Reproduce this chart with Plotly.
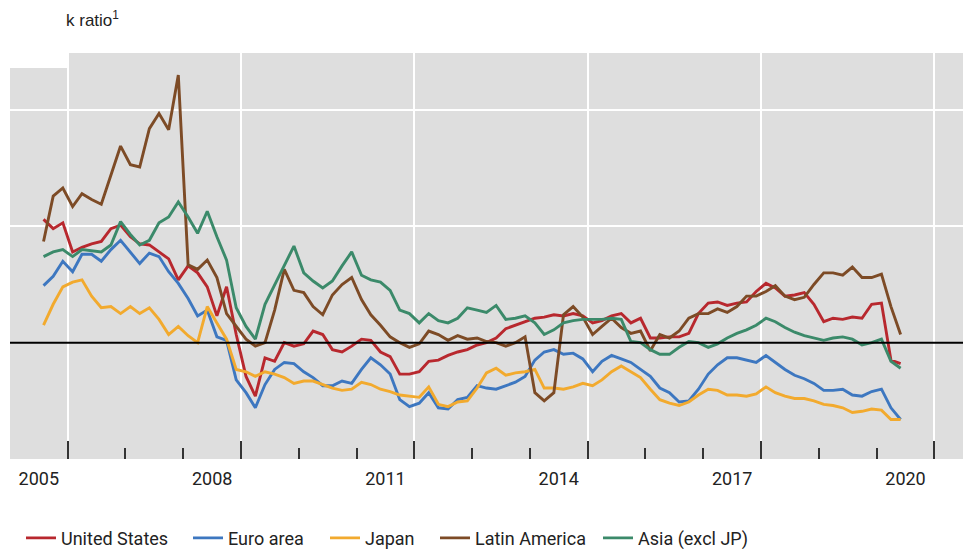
import pandas as pd
import plotly.graph_objects as go

# bi-monthly observations, Aug 2005 .. Jun 2020
dates = pd.date_range("2005-08-01", periods=90, freq="2MS")

united_states = [
    2.06, 1.98, 2.03, 1.78, 1.82, 1.85, 1.87, 1.98, 2.01, 1.91,
    1.85, 1.84, 1.78, 1.72, 1.54, 1.66, 1.60, 1.48, 1.23, 1.48,
    1.07, 0.71, 0.54, 0.87, 0.84, 1.00, 0.97, 0.99, 1.10, 1.07,
    0.94, 0.92, 0.97, 1.03, 1.02, 0.92, 0.88, 0.73, 0.73, 0.75,
    0.84, 0.85, 0.89, 0.92, 0.94, 0.98, 1.00, 1.04, 1.12, 1.15,
    1.18, 1.21, 1.22, 1.24, 1.23, 1.25, 1.23, 1.17, 1.19, 1.23,
    1.25, 1.17, 1.21, 1.04, 1.04, 1.05, 1.05, 1.08, 1.25, 1.34,
    1.35, 1.32, 1.34, 1.35, 1.44, 1.51, 1.47, 1.40, 1.41, 1.43,
    1.33, 1.18, 1.21, 1.20, 1.22, 1.21, 1.33, 1.34, 0.85, 0.82,
]
euro_area = [
    1.49, 1.57, 1.70, 1.61, 1.76, 1.76, 1.70, 1.80, 1.88, 1.78,
    1.68, 1.77, 1.74, 1.61, 1.51, 1.38, 1.23, 1.28, 1.05, 1.02,
    0.68, 0.57, 0.44, 0.64, 0.77, 0.83, 0.82, 0.75, 0.70, 0.63,
    0.63, 0.67, 0.65, 0.77, 0.87, 0.81, 0.73, 0.51, 0.45, 0.48,
    0.57, 0.44, 0.43, 0.51, 0.53, 0.63, 0.61, 0.60, 0.63, 0.66,
    0.71, 0.85, 0.92, 0.94, 0.90, 0.91, 0.86, 0.75, 0.84, 0.89,
    0.86, 0.83, 0.77, 0.71, 0.61, 0.57, 0.49, 0.50, 0.60, 0.73,
    0.81, 0.87, 0.87, 0.85, 0.83, 0.89, 0.83, 0.77, 0.72, 0.69,
    0.65, 0.59, 0.59, 0.60, 0.55, 0.54, 0.58, 0.60, 0.44, 0.34,
]
japan = [
    1.15, 1.33, 1.48, 1.52, 1.54, 1.40, 1.30, 1.31, 1.25, 1.31,
    1.25, 1.30, 1.20, 1.07, 1.14, 1.06, 1.00, 1.31, 1.17, 1.03,
    0.77, 0.75, 0.71, 0.75, 0.73, 0.70, 0.65, 0.67, 0.67, 0.64,
    0.61, 0.59, 0.60, 0.66, 0.64, 0.60, 0.58, 0.55, 0.54, 0.53,
    0.62, 0.47, 0.45, 0.49, 0.50, 0.61, 0.74, 0.78, 0.72, 0.74,
    0.75, 0.77, 0.61, 0.61, 0.60, 0.62, 0.65, 0.63, 0.68, 0.75,
    0.80, 0.75, 0.70, 0.60, 0.51, 0.48, 0.46, 0.49, 0.55, 0.60,
    0.59, 0.55, 0.55, 0.54, 0.56, 0.62, 0.57, 0.54, 0.52, 0.52,
    0.50, 0.47, 0.46, 0.44, 0.40, 0.41, 0.43, 0.42, 0.34, 0.34,
]
latin_america = [
    1.87, 2.26, 2.33, 2.17, 2.28, 2.23, 2.19, 2.43, 2.69, 2.53,
    2.51, 2.84, 2.97, 2.83, 3.30, 1.67, 1.63, 1.71, 1.56, 1.25,
    1.14, 1.03, 0.97, 1.00, 1.28, 1.63, 1.45, 1.43, 1.31, 1.24,
    1.41, 1.50, 1.56, 1.37, 1.24, 1.15, 1.05, 1.00, 0.96, 0.99,
    1.10, 1.07, 1.02, 1.06, 1.03, 1.04, 1.01, 1.00, 0.97, 1.00,
    1.05, 0.57, 0.50, 0.57, 1.24, 1.31, 1.22, 1.07, 1.14, 1.21,
    1.13, 1.08, 1.10, 0.93, 1.07, 1.04, 1.10, 1.21, 1.25, 1.25,
    1.29, 1.26, 1.31, 1.40, 1.40, 1.44, 1.49, 1.40, 1.37, 1.39,
    1.50, 1.60, 1.60, 1.58, 1.65, 1.56, 1.56, 1.59, 1.31, 1.07,
]
asia_excl_jp = [
    1.74, 1.78, 1.80, 1.74, 1.80, 1.79, 1.78, 1.84, 2.04, 1.93,
    1.84, 1.88, 2.03, 2.08, 2.21, 2.08, 1.94, 2.13, 1.91, 1.71,
    1.30, 1.14, 1.03, 1.33, 1.50, 1.67, 1.83, 1.60, 1.53, 1.47,
    1.53, 1.66, 1.78, 1.58, 1.54, 1.52, 1.45, 1.28, 1.25, 1.17,
    1.25, 1.19, 1.17, 1.21, 1.30, 1.28, 1.26, 1.32, 1.20, 1.21,
    1.23, 1.17, 1.07, 1.11, 1.17, 1.19, 1.20, 1.20, 1.20, 1.21,
    1.20, 1.01, 1.00, 0.94, 0.90, 0.90, 0.96, 1.01, 1.00, 0.96,
    0.99, 1.04, 1.08, 1.11, 1.15, 1.21, 1.18, 1.13, 1.09, 1.06,
    1.04, 1.02, 1.04, 1.05, 1.03, 0.98, 1.00, 1.03, 0.84, 0.78,
]

series_names = ["United States", "Euro area", "Japan", "Latin America", "Asia (excl JP)"]
series_values = [united_states, euro_area, japan, latin_america, asia_excl_jp]
series_colors = ["#b8282e", "#3d77c0", "#f2aa2e", "#7d4b26", "#3b8a6a"]

year_labels = ["2005", "2008", "2011", "2014", "2017", "2020"]
label_positions = [f"{y}-07-02" for y in year_labels]
major_ticks = [f"{y}-01-01" for y in ["2006", "2009", "2012", "2015", "2018", "2021"]]
x_range = ["2005-01-01", "2021-08-20"]

TICK_FONT = "Roboto, Arial, sans-serif"

# the page body adds an 8px offset; margins are set so that the plot area
# lands at window pixels x 10..971, y 53..459
PAGE_OFFSET = 8
plot_left_win, plot_width = 10, 961

fig = go.Figure()

legend_x_px = [33, 200, 337, 447, 610]  # window pixel start positions of legend entries
for i, (name, vals, col) in enumerate(zip(series_names, series_values, series_colors)):
    lg = "legend" if i == 0 else f"legend{i+1}"
    fig.add_trace(go.Scatter(
        x=dates, y=vals, name=name, mode="lines",
        line=dict(color=col, width=2.9),
        legend=lg,
    ))

# dummy trace for the label axis
fig.add_trace(go.Scatter(x=[dates[0]], y=[1], xaxis="x2", mode="lines",
                         showlegend=False, hoverinfo="skip"))

legend_common = dict(orientation="h", yanchor="middle", y=-0.195, xanchor="left",
                     bgcolor="rgba(0,0,0,0)", borderwidth=0,
                     font=dict(family=TICK_FONT, size=18, color="#222"))
legends = {}
for i, px in enumerate(legend_x_px):
    key = "legend" if i == 0 else f"legend{i+1}"
    legends[key] = dict(legend_common, x=(px - 12 - plot_left_win) / plot_width)

fig.update_layout(
    width=971, height=549,
    margin=dict(l=10 - PAGE_OFFSET, r=PAGE_OFFSET, t=53 - PAGE_OFFSET,
                b=549 - (459 - PAGE_OFFSET), autoexpand=False),
    paper_bgcolor="white",
    plot_bgcolor="#dedede",
    showlegend=True,
    **legends,
    xaxis=dict(
        type="date", range=x_range,
        tickvals=major_ticks, showticklabels=False,
        ticks="inside", ticklen=18, tickwidth=1.5, tickcolor="#333",
        showgrid=True, gridcolor="white", gridwidth=2,
        minor=dict(ticks="inside", ticklen=11, tickwidth=1.5, tickcolor="#333",
                   dtick="M12", tick0="2005-01-01", showgrid=False),
        zeroline=False, showline=False,
    ),
    xaxis2=dict(
        type="date", range=x_range, overlaying="x", anchor="y", side="bottom",
        tickvals=label_positions, ticktext=year_labels,
        ticks="", showgrid=False, zeroline=False, showline=False,
        tickfont=dict(family=TICK_FONT, size=18, color="#222"),
        ticklabelstandoff=7,
    ),
    yaxis=dict(
        range=[0, 3.49], tickvals=[0, 2, 3], showticklabels=False,
        showgrid=True, gridcolor="white", gridwidth=2,
        zeroline=False, showline=False, ticks="",
    ),
    shapes=[
        dict(type="line", xref="paper", yref="y", x0=0, x1=1, y0=1, y1=1,
             line=dict(color="black", width=2), layer="above"),
        dict(type="rect", xref="paper", yref="paper", x0=-0.001, x1=58 / 961,
             y0=(459 - 68) / 406, y1=1.001, fillcolor="white", line=dict(width=0),
             layer="below"),
    ],
    annotations=[
        dict(text="k ratio<sup>1</sup>", xref="paper", yref="paper",
             x=(64 - 10) / 961, y=1 + (53 - 19) / 406, xanchor="left", yanchor="middle",
             showarrow=False, font=dict(family="Liberation Sans, Arial, sans-serif",
                                        size=17, color="#222")),
    ],
)

fig.write_html("out.html")
